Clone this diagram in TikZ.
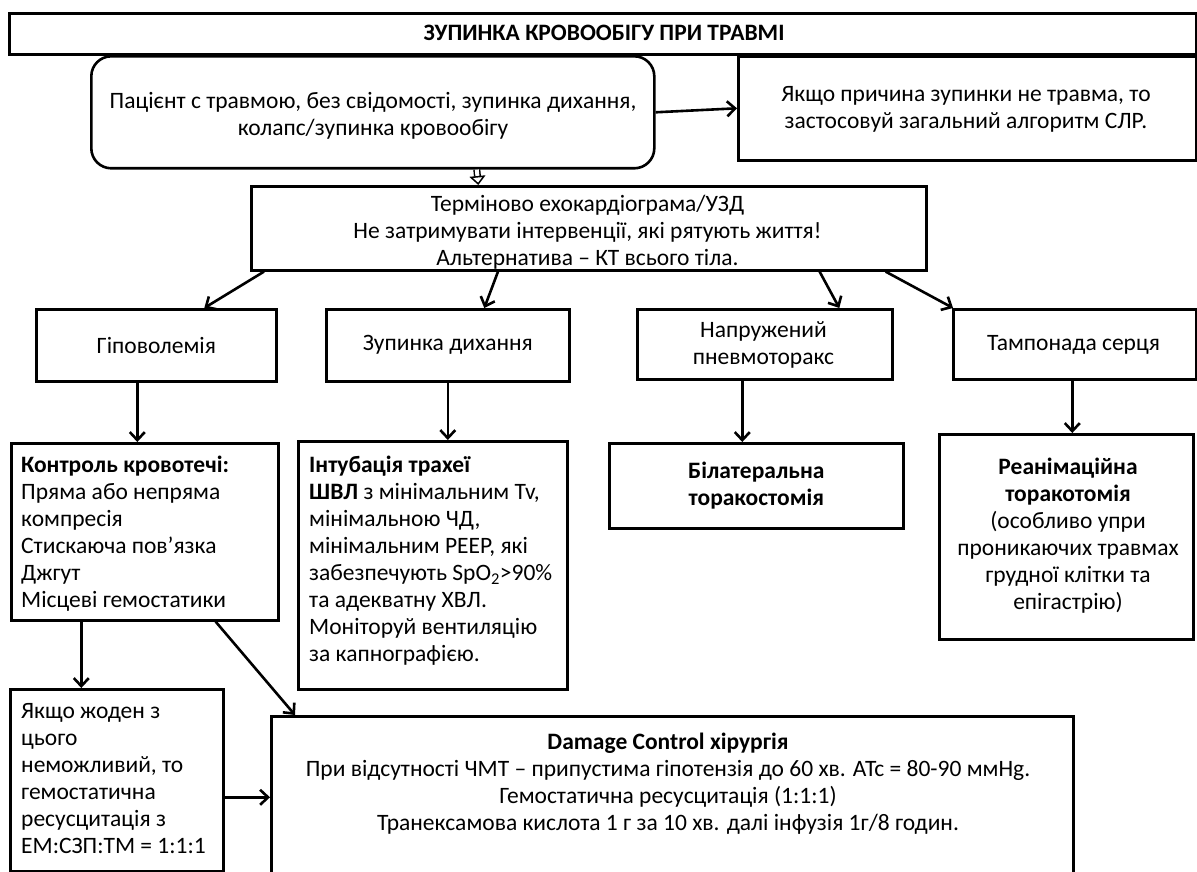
\documentclass[tikz,border=0pt]{standalone}
\usepackage{fontspec}
\setmainfont{Carlito}
\usetikzlibrary{arrows.meta}
\begin{document}
\begin{tikzpicture}[x=1pt,y=-1pt,
  bx/.style={draw, line width=2.6pt, inner sep=0pt, anchor=north west},
  txt/.style={font=\fontsize{23.5}{27}\selectfont, inner sep=0pt, align=center},
  txl/.style={font=\fontsize{23.5}{27}\selectfont, inner sep=0pt, align=left, anchor=west},
  arr/.style={line width=2.6pt, -{Straight Barb[length=8pt,width=15pt]}},
  hollowarr/.style={line width=1.5pt, double distance=4pt, -{Triangle[open,length=9pt,width=16pt,line width=1.5pt]}}]
\useasboundingbox (0,0) rectangle (1197,872);
% boxes
\node[bx, minimum width=1187pt, minimum height=41pt] (title) at (8,12) {};
\node[bx, rounded corners=20pt, minimum width=563pt, minimum height=112pt] (box1) at (90,55) {};
\node[bx, minimum width=458pt, minimum height=104pt] (right) at (737,55) {};
\node[bx, minimum width=675pt, minimum height=84pt] (term) at (250,185) {};
\node[bx, minimum width=240pt, minimum height=72pt] (gip) at (35,308) {};
\node[bx, minimum width=243pt, minimum height=72pt] (zup) at (325,308) {};
\node[bx, minimum width=255pt, minimum height=70pt] (nap) at (636,308) {};
\node[bx, minimum width=243pt, minimum height=70pt] (tam) at (952,308) {};
\node[bx, minimum width=267pt, minimum height=177pt] (kon) at (10,442) {};
\node[bx, minimum width=269pt, minimum height=248pt] (int) at (297,440) {};
\node[bx, minimum width=294pt, minimum height=85pt] (bil) at (608,442) {};
\node[bx, minimum width=254pt, minimum height=205pt] (rea) at (938,433) {};
\node[bx, minimum width=213pt, minimum height=182pt] (yak) at (9,688) {};
\node[bx, minimum width=802pt, minimum height=200pt] (dam) at (270,715) {};
% texts
\node[txt] (ttitle) at (604,32.5) {\bfseries ЗУПИНКА КРОВООБІГУ ПРИ ТРАВМІ};
\node[txt] (t1) at (373,115.5) {Пацієнт с травмою, без свідомості, зупинка дихання,\\колапс/зупинка кровообігу};
\node[txt] (tr) at (966,109) {Якщо причина зупинки не травма, то\\застосовуй загальний алгоритм СЛР.};
\node[txt] (tt) at (587.5,232) {Терміново ехокардіограма/УЗД\\Не затримувати інтервенції, які рятують життя!\\Альтернатива – КТ всього тіла.};
\node[txt] (tg) at (gip.center) {Гіповолемія};
\node[txt] (tz) at (zup.center) {Зупинка дихання};
\node[txt] (tn) at (763.5,345) {Напружений\\пневмоторакс};
\node[txt] (ttam) at (1073.5,345) {Тампонада серця};
\node[txl] (tk) at (21,534) {\textbf{Контроль кровотечі:}\\Пряма або непряма\\компресія\\Стискаюча пов’язка\\Джгут\\Місцеві гемостатики};
\node[txl] (ti) at (309,561) {\textbf{Інтубація трахеї}\\\textbf{ШВЛ} з мінімальним Tv,\\мінімальною ЧД,\\мінімальним PEEP, які\\забезпечують SpO\textsubscript{2}>90\%\\та адекватну ХВЛ.\\Моніторуй вентиляцію\\за капнографією.};
\node[txt] (tb) at (bil.center) {\bfseries Білатеральна\\\bfseries торакостомія};
\node[txt] (trea) at (1068,536) {\textbf{Реанімаційна}\\\textbf{торакотомія}\\(особливо упри\\проникаючих травмах\\грудної клітки та\\епігастрію)};
\node[txl] (ty) at (21,779) {Якщо жоден з\\цього\\неможливий, то\\гемостатична\\ресусцитація з\\ЕМ:СЗП:ТМ = 1:1:1};
\node[txt] (td) at (668,784) {\textbf{Damage Control хірургія}\\При відсутності ЧМТ – припустима гіпотензія до 60 хв. АТс = 80-90 ммHg.\\Гемостатична ресусцитація (1:1:1)\\Транексамова кислота 1 г за 10 хв. далі інфузія 1г/8 годин.};
% connectors
\draw[arr] (box1.east) -- (right.west);
\draw[hollowarr] ([xshift=104pt]box1.south) -- ([xshift=-110.5pt]term.north);
\draw[arr] ([xshift=14pt]term.south west) -- ([xshift=48pt]gip.north);
\draw[arr] ([xshift=248pt]term.south west) -- ([xshift=36.5pt]zup.north);
\draw[arr] ([xshift=-108pt]term.south east) -- ([xshift=74.5pt]nap.north);
\draw[arr] ([xshift=-42pt]term.south east) -- ([xshift=1pt]tam.north west);
\draw[arr] ([xshift=-19pt]gip.south) -- ([xshift=-19pt]gip.south |- kon.north);
\draw[arr] (zup.south) -- (zup.south |- int.north);
\draw[arr] ([xshift=-22.5pt]nap.south) -- ([xshift=-22.5pt]nap.south |- bil.north);
\draw[arr] ([xshift=-2.5pt]tam.south) -- ([xshift=-2.5pt]tam.south |- rea.north);
\draw[arr] ([xshift=-63.5pt]kon.south) -- ([xshift=-63.5pt]kon.south |- yak.north);
\draw[arr] ([xshift=-64pt]kon.south east) -- ([xshift=25pt]dam.north west);
\draw[arr] ([yshift=-17pt]yak.east) -- ([yshift=-17pt]yak.east -| dam.west);
\end{tikzpicture}
\end{document}
